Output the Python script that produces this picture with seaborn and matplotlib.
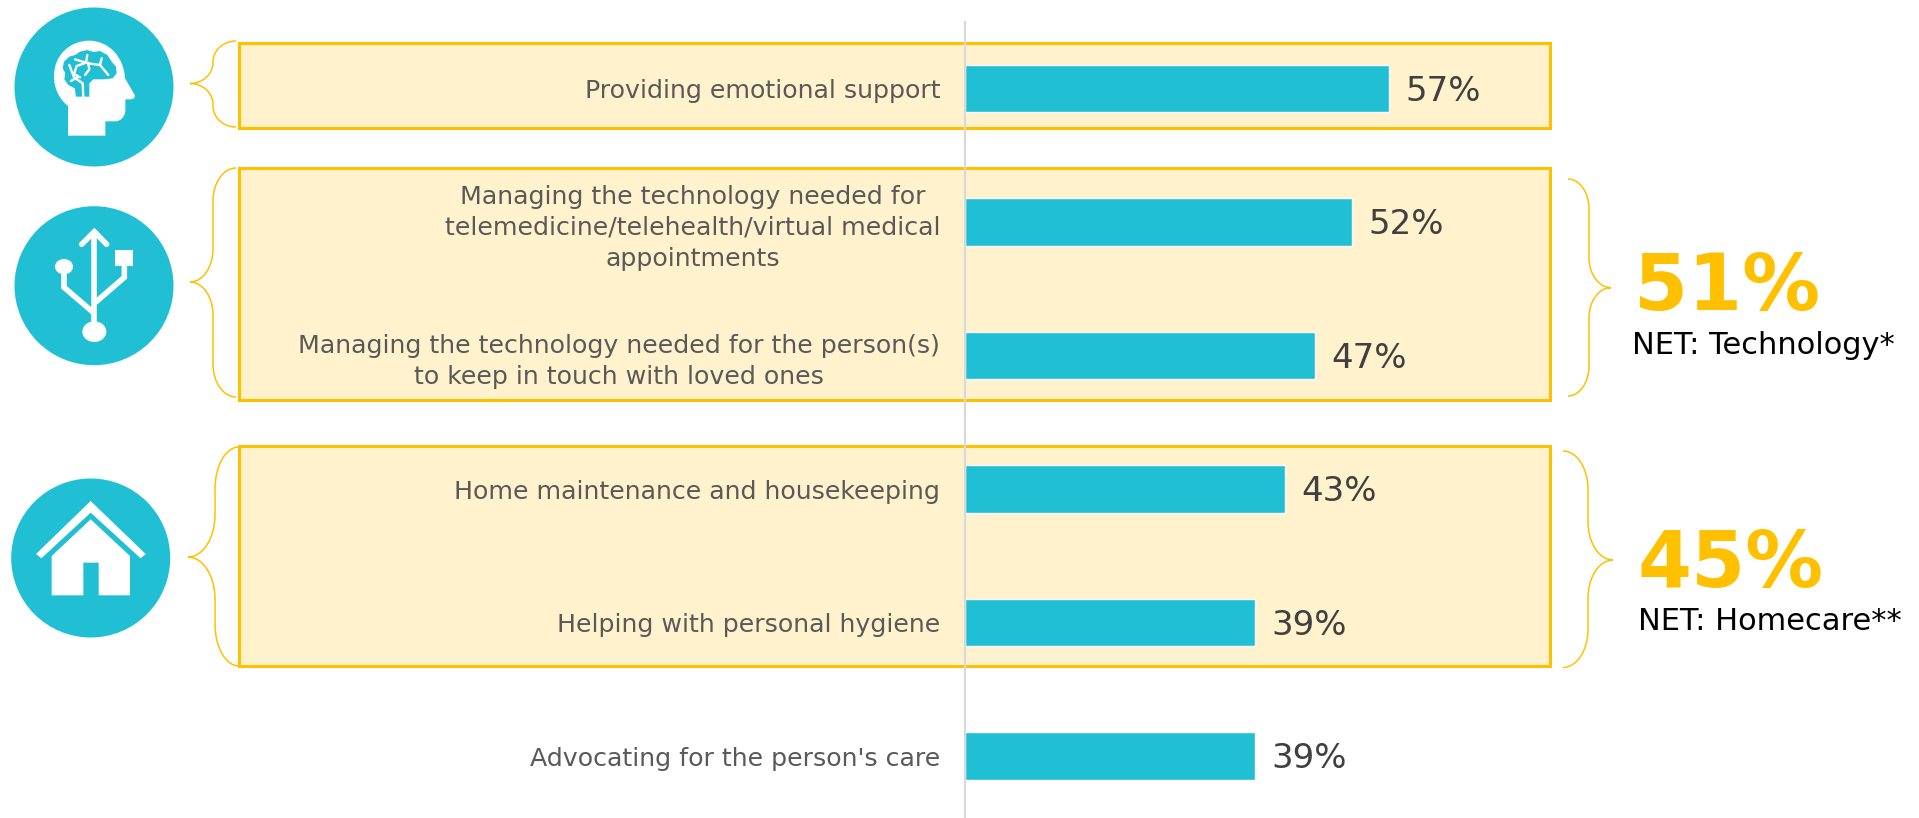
import matplotlib
matplotlib.use("Agg")
import matplotlib.pyplot as plt
import seaborn as sns
import pandas as pd
from matplotlib.path import Path
from matplotlib.patches import PathPatch, Rectangle, Circle, Ellipse, Polygon

categories = [
    "Providing emotional support",
    "Managing the technology needed for\ntelemedicine/telehealth/virtual medical\nappointments",
    "Managing the technology needed for the person(s)\nto keep in touch with loved ones",
    "Home maintenance and housekeeping",
    "Helping with personal hygiene",
    "Advocating for the person's care",
]
values = [57, 52, 47, 43, 39, 39]
net_values = ["51%", "45%"]
net_labels = ["NET: Technology*", "NET: Homecare**"]

W, H = 1919, 818
TEAL = "#21BFD3"
GOLD = "#FFC000"
CREAM = "#FFF2CC"

sns.set_theme(style="white")
plt.rcParams["font.family"] = ["DejaVu Sans"]
fig = plt.figure(figsize=(W / 100, H / 100), dpi=100, facecolor="white")

# background layer in pixel coordinates
bg = fig.add_axes([0, 0, 1, 1], zorder=0)
bg.set_xlim(0, W)
bg.set_ylim(H, 0)
bg.axis("off")

# chart layer
x0, top = 964.5, 22
ax = fig.add_axes([x0 / W, 0, 1 - x0 / W, 1 - top / H], zorder=1)
ax.patch.set_alpha(0)
df = pd.DataFrame({"task": categories, "pct": values})
sns.barplot(data=df, y="task", x="pct", orient="h", color=TEAL, saturation=1,
            width=0.354, ax=ax)
ax.set_xlim(0, (W - x0) / 7.45)
ax.set_ylim((H - 88.6) / 133.5, (top - 88.6) / 133.5)
ax.set_xlabel("")
ax.set_ylabel("")
ax.set_xticks([])
for s in ("top", "right", "bottom"):
    ax.spines[s].set_visible(False)
ax.spines["left"].set_color("#D9D9D9")
ax.spines["left"].set_linewidth(1.6)
ax.tick_params(axis="y", length=0, pad=17.5)
for lab in ax.get_yticklabels():
    lab.set_fontsize(18.2)
    lab.set_color("#595959")
    lab.set_multialignment("center")
    lab.set_linespacing(1.35)
for c in ax.containers:
    for ann in ax.bar_label(c, labels=[f"{v}%" for v in values], padding=12, fontsize=24.5,
                            color="#404040"):
        ann.xyann = (12, -2)

# boxes
for y0, y1 in [(43, 128), (168, 400), (446, 666)]:
    bg.add_patch(Rectangle((238.5, y0), 1550 - 238.5, y1 - y0, facecolor=CREAM,
                           edgecolor=GOLD, linewidth=2.2, zorder=1))

K = 0.5523


def brace(xe, xs, xt, y0, yt, y1, r):
    verts = [(xe, y0), (xs + (xe - xs) * (1 - K), y0), (xs, y0 + r * (1 - K)), (xs, y0 + r),
             (xs, yt - r),
             (xs, yt - r * (1 - K)), (xs + (xt - xs) * (1 - K), yt), (xt, yt),
             (xs + (xt - xs) * (1 - K), yt), (xs, yt + r * (1 - K)), (xs, yt + r),
             (xs, y1 - r),
             (xs, y1 - r * (1 - K)), (xs + (xe - xs) * (1 - K), y1), (xe, y1)]
    codes = [Path.MOVETO, Path.CURVE4, Path.CURVE4, Path.CURVE4,
             Path.LINETO, Path.CURVE4, Path.CURVE4, Path.CURVE4,
             Path.CURVE4, Path.CURVE4, Path.CURVE4,
             Path.LINETO, Path.CURVE4, Path.CURVE4, Path.CURVE4]
    bg.add_patch(PathPatch(Path(verts, codes), fill=False, edgecolor=GOLD,
                           linewidth=1.1, zorder=2))


brace(236, 213, 190, 41, 83.5, 127, 21)
brace(236, 213, 190, 168, 282, 397, 33)
brace(239, 215, 188, 447, 557, 666, 42)
brace(1568, 1589, 1611, 179, 287.7, 396, 30)
brace(1563, 1588, 1613, 451, 560, 667.5, 38)

# NET callouts
bg.text(1633.5, 310, net_values[0], color=GOLD, fontsize=56, fontweight="bold", va="baseline", ha="left")
bg.text(1632, 354, net_labels[0], color="black", fontsize=22, va="baseline", ha="left")
bg.text(1637.5, 586.5, net_values[1], color=GOLD, fontsize=56, fontweight="bold", va="baseline", ha="left")
bg.text(1638, 630.5, net_labels[1], color="black", fontsize=22, va="baseline", ha="left")

# icon discs
bg.add_patch(Circle((94, 87), 79.5, color=TEAL, lw=0, zorder=3))
bg.add_patch(Circle((94, 285.7), 79.5, color=TEAL, lw=0, zorder=3))
bg.add_patch(Circle((90.7, 558), 79.5, color=TEAL, lw=0, zorder=3))


def z(pts, oy=0):
    return [(x / 3, y / 3 + oy) for x, y in pts]


# brain / head icon
M, L, C, Z = Path.MOVETO, Path.LINETO, Path.CURVE4, Path.CLOSEPOLY
head = z([(204, 407), (204, 318), (175, 295), (162, 262), (162, 228), (162, 165), (210, 122), (268, 122),
          (325, 122), (372, 170), (375, 235), (403, 283), (408, 292), (400, 298), (392, 298), (376, 298),
          (376, 330), (376, 350), (362, 364), (345, 364), (316, 364), (316, 407), (204, 407)])
bg.add_patch(PathPatch(Path(head, [M, L, C, C, C, C, C, C, C, C, C, L, C, C, C, L, L, C, C, C, L, L, L]),
                       facecolor="white", lw=0, zorder=4))
brain = [(228, 290), (224, 265), (205, 255), (193, 238), (196, 220), (188, 205), (192, 185), (208, 170),
         (225, 165), (240, 155), (262, 150), (280, 156), (300, 153), (322, 165), (335, 185), (348, 200),
         (350, 220), (338, 235), (310, 238), (280, 238), (268, 250), (268, 290)]
bg.add_patch(Polygon(z(brain), closed=True, facecolor=TEAL, lw=0, zorder=5))
veins = [[(250, 290), (248, 250), (222, 232), (208, 195)], [(225, 178), (258, 188), (262, 165)],
         [(258, 188), (230, 198), (222, 222), (240, 232)], [(264, 188), (268, 208), (255, 225)],
         [(264, 190), (300, 195), (325, 225)], [(300, 195), (305, 175)], [(213, 243), (232, 232)]]
for v in veins:
    xs, ys = zip(*z(v))
    bg.plot(xs, ys, color="white", lw=1.7, zorder=6, solid_capstyle="round")

# USB icon
usb = [[(245, 733), (283, 695), (320, 733)], [(283, 695), (283, 1000)],
       [(192, 800), (192, 862), (283, 940)], [(373, 790), (373, 832), (283, 910)]]
for seg in usb:
    xs, ys = zip(*z(seg))
    bg.plot(xs, ys, color="white", lw=4, zorder=4, solid_joinstyle="miter",
            solid_capstyle="round" if seg is usb[0] else "butt")
bg.add_patch(Ellipse((283 / 3, 995 / 3), 72 / 3, 62 / 3, color="white", lw=0, zorder=4))
bg.add_patch(Ellipse((192 / 3, 800 / 3), 54 / 3, 46 / 3, color="white", lw=0, zorder=4))
bg.add_patch(Rectangle((346 / 3, 750 / 3), 54 / 3, 47 / 3, color="white", lw=0, zorder=4))

# house icon
roof = [(108, 372), (272, 213), (437, 372), (422, 385), (272, 248), (124, 385)]
body = [(155, 378), (272, 268), (390, 378), (390, 496), (296, 496), (296, 398), (250, 398), (250, 496), (155, 496)]
bg.add_patch(Polygon(z(roof, 430), closed=True, color="white", lw=0, zorder=4))
bg.add_patch(Polygon(z(body, 430), closed=True, color="white", lw=0, zorder=4))

fig.savefig("out.png", dpi=100, facecolor="white")
